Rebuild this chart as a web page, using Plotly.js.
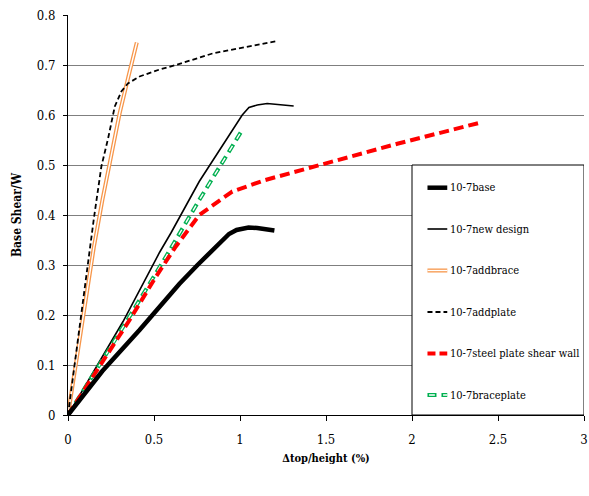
<!DOCTYPE html>
<html>
<head>
<meta charset="utf-8">
<script src="https://cdn.plot.ly/plotly-3.0.1.min.js"></script>
<style>html,body{margin:0;padding:0;background:#fff;}#chart{width:589px;height:496px;}</style>
</head>
<body>
<div id="chart"></div>
<script>
// Data
var baseX = [0, 0.2, 0.416, 0.474, 0.647, 0.753, 0.936, 0.98, 1.05, 1.1, 1.2];
var baseY = [0, 0.088, 0.17, 0.193, 0.262, 0.30, 0.362, 0.37, 0.375, 0.374, 0.369];

var newX = [0, 0.166, 0.32, 0.532, 0.6, 0.763, 1.013, 1.052, 1.1, 1.158, 1.312];
var newY = [0, 0.097, 0.187, 0.325, 0.365, 0.467, 0.60, 0.615, 0.62, 0.623, 0.618];

var braceX = [0, 0.05, 0.1, 0.15, 0.2, 0.25, 0.3, 0.35, 0.40];
var braceY = [0, 0.115, 0.225, 0.335, 0.43, 0.52, 0.603, 0.675, 0.745];

var plateX = [0, 0.031, 0.08, 0.127, 0.152, 0.194, 0.233, 0.272, 0.31, 0.348, 0.416, 0.532, 0.627, 0.84, 1.0, 1.216];
var plateY = [0, 0.083, 0.21, 0.33, 0.397, 0.497, 0.553, 0.617, 0.647, 0.663, 0.677, 0.691, 0.70, 0.723, 0.733, 0.748];

var spswX = [0, 0.166, 0.358, 0.512, 0.627, 0.763, 0.917, 0.955, 1.147, 1.34, 1.53, 1.92, 2.4];
var spswY = [0, 0.088, 0.19, 0.277, 0.337, 0.40, 0.437, 0.447, 0.47, 0.488, 0.507, 0.543, 0.585];

var bpX = [0, 0.166, 0.358, 0.57, 0.763, 1.013];
var bpY = [0, 0.09, 0.197, 0.317, 0.43, 0.57];

var seriesNames = ['10-7base', '10-7new design', '10-7addbrace', '10-7addplate', '10-7steel plate shear wall', '10-7braceplate'];
var xTicks = [0, 0.5, 1, 1.5, 2, 2.5, 3];
var xTickText = ['0', '0.5', '1', '1.5', '2', '2.5', '3'];
var yTicks = [0, 0.1, 0.2, 0.3, 0.4, 0.5, 0.6, 0.7, 0.8];
var yTickText = ['0', '0.1', '0.2', '0.3', '0.4', '0.5', '0.6', '0.7', '0.8'];

var FONT = '"DejaVu Serif Condensed", "DejaVu Serif", serif';
var ORANGE = '#F7964A';
var GREEN = '#00B050';
var RED = '#FF0000';
var GREEN_DASH = '9px,5px';
var GREEN_INNER = '0px,1.6px,5.8px,6.6px';
var RED_DASH = '10px,5px';
var BLACK_DASH = '5px,3px';

var traces = [
  {x: braceX, y: braceY, mode: 'lines', name: seriesNames[2], line: {color: ORANGE, width: 4}},
  {x: braceX, y: braceY, mode: 'lines', name: seriesNames[2], line: {color: '#ffffff', width: 1.4}},
  {x: plateX, y: plateY, mode: 'lines', name: seriesNames[3], line: {color: '#000000', width: 1.8, dash: BLACK_DASH}},
  {x: newX, y: newY, mode: 'lines', name: seriesNames[1], line: {color: '#000000', width: 1.6}},
  {x: bpX, y: bpY, mode: 'lines', name: seriesNames[5], line: {color: GREEN, width: 4, dash: GREEN_DASH}},
  {x: bpX, y: bpY, mode: 'lines', name: seriesNames[5], line: {color: '#ffffff', width: 1.4, dash: GREEN_INNER}},
  {x: spswX, y: spswY, mode: 'lines', name: seriesNames[4], line: {color: RED, width: 4, dash: RED_DASH}},
  {x: baseX, y: baseY, mode: 'lines', name: seriesNames[0], line: {color: '#000000', width: 4.5}}
];
traces.forEach(function(t){ t.showlegend = false; t.hoverinfo = 'skip'; });

var shapes = [{type: 'rect', xref: 'x', yref: 'y', x0: 2, x1: 3, y0: 0, y1: 0.5,
  line: {color: '#000000', width: 1}, fillcolor: '#ffffff', layer: 'above'}];
var annotations = [];
var legY = [0.4546, 0.372, 0.289, 0.206, 0.123, 0.04];
var sx0 = 2.09, sx1 = 2.205;
var legStyles = [
  [{color: '#000000', width: 4.5}],
  [{color: '#000000', width: 1.6}],
  [{color: ORANGE, width: 4}, {color: '#ffffff', width: 1.4}],
  [{color: '#000000', width: 1.8, dash: BLACK_DASH}],
  [{color: RED, width: 4, dash: '8px,4px'}],
  [{color: GREEN, width: 4, dash: GREEN_DASH}, {color: '#ffffff', width: 1.4, dash: GREEN_INNER}]
];
for (var i = 0; i < seriesNames.length; i++) {
  legStyles[i].forEach(function(ls){
    shapes.push({type: 'line', xref: 'x', yref: 'y', x0: sx0, x1: sx1, y0: legY[i], y1: legY[i], line: ls, layer: 'above'});
  });
  annotations.push({xref: 'x', yref: 'y', x: sx1 + 0.003, y: legY[i], text: seriesNames[i], showarrow: false,
    xanchor: 'left', yanchor: 'middle', font: {family: FONT, size: 11, color: '#000'}});
}

var layout = {
  width: 589, height: 496,
  margin: {l: 68, r: 5, t: 15, b: 81},
  paper_bgcolor: '#ffffff', plot_bgcolor: '#ffffff',
  font: {family: FONT, size: 12, color: '#000'},
  showlegend: false,
  xaxis: {
    range: [0, 3], tickmode: 'array', tickvals: xTicks, ticktext: xTickText,
    showgrid: false, zeroline: false, showline: true, linecolor: '#000', linewidth: 1,
    ticks: 'outside', ticklen: 5, tickcolor: '#000', ticklabelstandoff: 7, ticklabeloverflow: 'allow',
    tickfont: {family: FONT, size: 13},
    title: {text: '<b>Δtop/height (%)</b>', font: {family: FONT, size: 11}, standoff: 8}
  },
  yaxis: {
    range: [0, 0.8], tickmode: 'array', tickvals: yTicks, ticktext: yTickText,
    showgrid: true, gridcolor: '#7f7f7f', gridwidth: 1, zeroline: false,
    showline: true, linecolor: '#000', linewidth: 1,
    ticks: 'outside', ticklen: 4, tickcolor: '#000', ticklabelstandoff: 5,
    tickfont: {family: FONT, size: 13},
    title: {text: '<b>Base Shear/W</b>', font: {family: FONT, size: 12}, standoff: 12}
  },
  shapes: shapes,
  annotations: annotations
};

Plotly.newPlot('chart', traces, layout, {displayModeBar: false, staticPlot: true});
</script>
</body>
</html>
